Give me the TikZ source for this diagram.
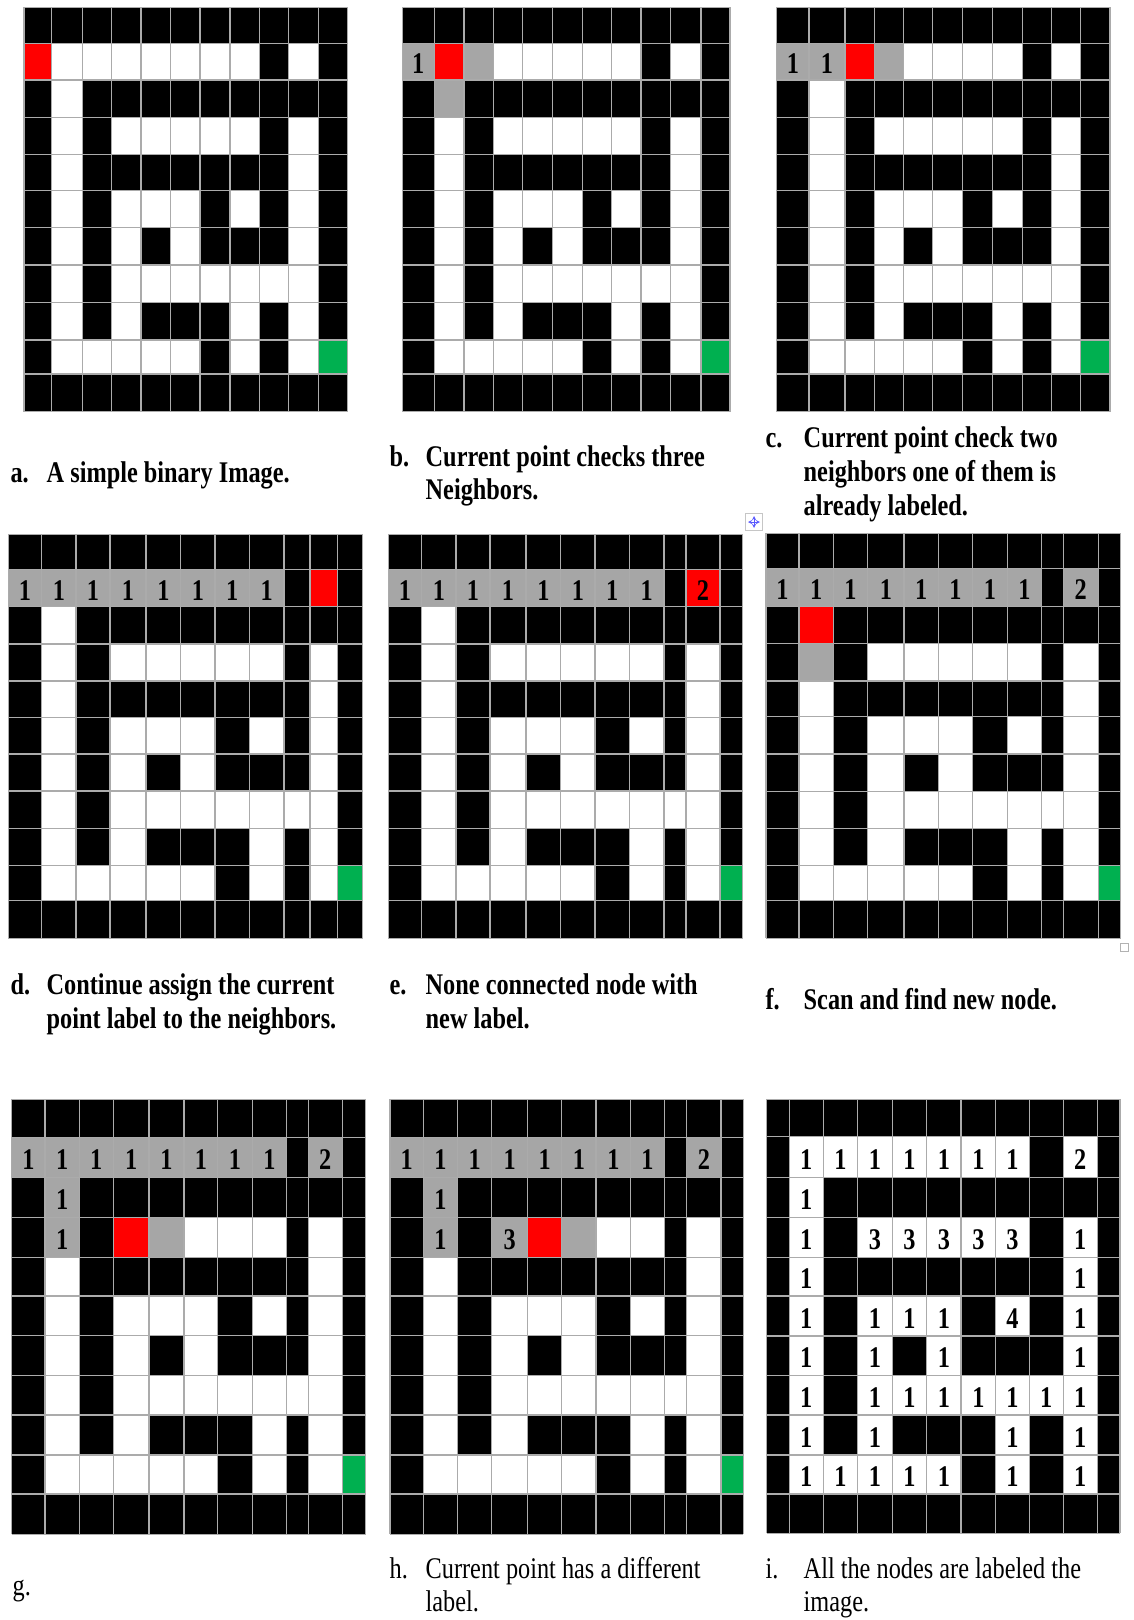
\documentclass[tikz,border=0pt]{standalone}
\usepackage{fontspec}
\setmainfont{Liberation Serif}
\usepackage{graphicx}
\definecolor{gcell}{HTML}{A6A6A6}
\definecolor{rcell}{HTML}{FF0000}
\definecolor{ecell}{HTML}{00B050}
\definecolor{gridc}{HTML}{ABABAB}
\tikzset{
  capb/.style={anchor=base west, inner sep=0pt, font=\fontsize{30}{33}\selectfont\bfseries},
  capr/.style={anchor=base west, inner sep=0pt, font=\fontsize{30}{33}\selectfont},
  digit/.style={anchor=base, inner sep=0pt, font=\fontsize{30}{30}\selectfont\bfseries},
  gline/.style={draw=gridc, line width=1.2pt},
}
\newcommand\SX[1]{\scalebox{0.81}[1]{#1}}
\newcommand{\Cell}[3]{%
  \pgfmathtruncatemacro\cnc{#2+1}%
  \pgfmathtruncatemacro\cnr{#1+1}%
  \pgfmathsetmacro\cxa{\PX[#2]}%
  \pgfmathsetmacro\cxb{\PX[\cnc]}%
  \pgfmathsetmacro\cya{\PY[#1]}%
  \pgfmathsetmacro\cyb{\PY[\cnr]}%
  \fill[#3] (\cxa,\cya) rectangle (\cxb,\cyb);}
\newcommand{\Lab}[3]{%
  \pgfmathtruncatemacro\cnc{#2+1}%
  \pgfmathtruncatemacro\cnr{#1+1}%
  \pgfmathsetmacro\cxa{\PX[#2]}%
  \pgfmathsetmacro\cxb{\PX[\cnc]}%
  \pgfmathsetmacro\cya{\PY[#1]}%
  \pgfmathsetmacro\cyb{\PY[\cnr]}%
  \pgfmathsetmacro\cxc{(\cxa+\cxb)/2}%
  \pgfmathsetmacro\cyc{(\cya+\cyb)/2+12}%
  \node[digit] (d\PN-#1-#2) at (\cxc,\cyc) {\SX{#3}};}
\newcommand{\Maze}{%
  \pgfmathsetmacro\mxa{\PX[0]}\pgfmathsetmacro\mxb{\PX[11]}%
  \pgfmathsetmacro\mya{\PY[0]}\pgfmathsetmacro\myb{\PY[11]}%
  \fill[black] (\mxa,\mya) rectangle (\mxb,\myb);
  \foreach \r/\c in {1/1,1/2,1/3,1/4,1/5,1/6,1/7,1/9,
    2/1,
    3/1,3/3,3/4,3/5,3/6,3/7,3/9,
    4/1,4/9,
    5/1,5/3,5/4,5/5,5/7,5/9,
    6/1,6/3,6/5,6/9,
    7/1,7/3,7/4,7/5,7/6,7/7,7/8,7/9,
    8/1,8/3,8/7,8/9,
    9/1,9/2,9/3,9/4,9/5,9/7,9/9}{\Cell{\r}{\c}{white}}%
}
\newcommand{\Grid}{%
  \pgfmathsetmacro\gya{\PY[0]}\pgfmathsetmacro\gyb{\PY[11]}%
  \pgfmathsetmacro\gxa{\PX[0]}\pgfmathsetmacro\gxb{\PX[11]}%
  \foreach \i in {0,...,11}{%
    \pgfmathsetmacro\gx{\PX[\i]}\draw[gline] (\gx,\gya) -- (\gx,\gyb);
    \pgfmathsetmacro\gy{\PY[\i]}\draw[gline] (\gxa,\gy) -- (\gxb,\gy);}%
}
\begin{document}
\begin{tikzpicture}[x=1pt,y=-1pt]
\useasboundingbox[fill=white] (0,0) rectangle (1133,1620);
% ---------------- panel a
\def\PN{a}
\def\PX{{24,51.7,82.3,111.7,141,170.7,200,230,259.3,288.3,318.3,347.3}}
\def\PY{{7.3,43.3,80,117.3,154.3,190.7,227.7,265,302.3,340,374,411.7}}
\Maze
\Cell{1}{0}{rcell}\Cell{9}{10}{ecell}
\Grid
% ---------------- panel b
\def\PN{b}
\def\PX{{402.3,434.3,464,493.3,522.7,552.7,582.3,611.7,641,670.3,701,730}}
\Maze
\Cell{1}{0}{gcell}\Cell{1}{1}{rcell}\Cell{1}{2}{gcell}\Cell{2}{1}{gcell}\Cell{9}{10}{ecell}
\Grid
\Lab{1}{0}{1}
% ---------------- panel c
\def\PN{c}
\def\PX{{776.7,809,845,874.3,903.3,932.7,962.3,992.3,1022.3,1051.7,1080.7,1110}}
\Maze
\Cell{1}{0}{gcell}\Cell{1}{1}{gcell}\Cell{1}{2}{rcell}\Cell{1}{3}{gcell}\Cell{9}{10}{ecell}
\Grid
\Lab{1}{0}{1}\Lab{1}{1}{1}
% ---------------- panel d
\def\PN{d}
\def\PX{{8.3,41.7,76,110,146,180.7,215,249.3,284,310,337.3,362.7}}
\def\PY{{534.3,569.3,606.7,644,681,717.3,754,791,828.3,865.7,900.7,938.3}}
\Maze
\foreach \c in {0,...,7}{\Cell{1}{\c}{gcell}}
\Cell{1}{9}{rcell}\Cell{9}{10}{ecell}
\Grid
\foreach \c in {0,...,7}{\Lab{1}{\c}{1}}
% ---------------- panel e
\def\PN{e}
\def\PX{{388.3,421.7,456,490,526,560.7,595,629.3,664,686,720,742.7}}
\Maze
\foreach \c in {0,...,7}{\Cell{1}{\c}{gcell}}
\Cell{1}{9}{rcell}\Cell{9}{10}{ecell}
\Grid
\foreach \c in {0,...,7}{\Lab{1}{\c}{1}}
\Lab{1}{9}{2}
% ---------------- panel f
\def\PN{f}
\def\PX{{766,799,833.3,867.7,904,938.3,972.7,1007.3,1041.7,1063.3,1098.3,1120.7}}
\def\PY{{533.3,568.3,606.7,643.3,681,716.7,754,791.7,828.3,865.7,900.7,938.3}}
\Maze
\foreach \c in {0,...,7}{\Cell{1}{\c}{gcell}}
\Cell{1}{9}{gcell}\Cell{2}{1}{rcell}\Cell{3}{1}{gcell}\Cell{9}{10}{ecell}
\Grid
\foreach \c in {0,...,7}{\Lab{1}{\c}{1}}
\Lab{1}{9}{2}
% ---------------- panel g
\def\PN{g}
\def\PX{{11.7,45,79.3,113.3,149,184,217.7,252.3,286.7,308.3,342.3,365.7}}
\def\PY{{1099.3,1137.3,1177.7,1217.7,1257.7,1296,1335.7,1375.7,1415,1455,1494,1534.3}}
\Maze
\foreach \c in {0,...,7}{\Cell{1}{\c}{gcell}}
\Cell{1}{9}{gcell}\Cell{2}{1}{gcell}\Cell{3}{1}{gcell}\Cell{3}{3}{rcell}\Cell{3}{4}{gcell}\Cell{9}{10}{ecell}
\Grid
\foreach \c in {0,...,7}{\Lab{1}{\c}{1}}
\Lab{1}{9}{2}\Lab{2}{1}{1}\Lab{3}{1}{1}
% ---------------- panel h
\def\PN{h}
\def\PX{{390,423.3,457.7,491.7,527.7,561.7,596,630.7,664.3,686.7,721,743.3}}
\Maze
\foreach \c in {0,...,7}{\Cell{1}{\c}{gcell}}
\Cell{1}{9}{gcell}\Cell{2}{1}{gcell}\Cell{3}{1}{gcell}\Cell{3}{3}{gcell}\Cell{3}{4}{rcell}\Cell{3}{5}{gcell}\Cell{9}{10}{ecell}
\Grid
\foreach \c in {0,...,7}{\Lab{1}{\c}{1}}
\Lab{1}{9}{2}\Lab{2}{1}{1}\Lab{3}{1}{1}\Lab{3}{3}{3}
% ---------------- panel i
\def\PN{i}
\def\PX{{766.7,789.3,823.3,857.7,892.3,926.7,961,995.7,1029.3,1063.3,1097.3,1120}}
\def\PY{{1099.3,1136.7,1177.3,1217.7,1257.7,1296,1336,1375.7,1415,1455,1494,1533.3}}
\Maze
\Grid
\foreach \r/\c/\t in {1/1/1,1/2/1,1/3/1,1/4/1,1/5/1,1/6/1,1/7/1,1/9/2,
    2/1/1,
    3/1/1,3/3/3,3/4/3,3/5/3,3/6/3,3/7/3,3/9/1,
    4/1/1,4/9/1,
    5/1/1,5/3/1,5/4/1,5/5/1,5/7/4,5/9/1,
    6/1/1,6/3/1,6/5/1,6/9/1,
    7/1/1,7/3/1,7/4/1,7/5/1,7/6/1,7/7/1,7/8/1,7/9/1,
    8/1/1,8/3/1,8/7/1,8/9/1,
    9/1/1,9/2/1,9/3/1,9/4/1,9/5/1,9/7/1,9/9/1}{\Lab{\r}{\c}{\t}}
% ---------------- captions
\node[capb] (ca0) at (10.3,482.5) {\SX{a.}};
\node[capb] (ca1) at (46.5,482.5) {\SX{A simple binary Image.}};
\node[capb] (cb0) at (389.4,466.7) {\SX{b.}};
\node[capb] (cb1) at (425.5,466.7) {\SX{Current point checks three}};
\node[capb] (cb2) at (425.5,499.3) {\SX{Neighbors.}};
\node[capb] (cc0) at (765.3,447.5) {\SX{c.}};
\node[capb] (cc1) at (803.5,447.5) {\SX{Current point check two}};
\node[capb] (cc2) at (803.5,481.5) {\SX{neighbors one of them is}};
\node[capb] (cc3) at (803.5,515.5) {\SX{already labeled.}};
\node[capb] (cd0) at (10.3,994.5) {\SX{d.}};
\node[capb] (cd1) at (46.5,994.5) {\SX{Continue assign the current}};
\node[capb] (cd2) at (46.5,1028.5) {\SX{point label to the neighbors.}};
\node[capb] (ce0) at (389.4,994.5) {\SX{e.}};
\node[capb] (ce1) at (425.5,994.5) {\SX{None connected node with}};
\node[capb] (ce2) at (425.5,1028.5) {\SX{new label.}};
\node[capb] (cf0) at (765.3,1009.5) {\SX{f.}};
\node[capb] (cf1) at (803.5,1009.5) {\SX{Scan and find new node.}};
\node[capr] (cg0) at (12.4,1595) {\SX{g.}};
\node[capr] (ch0) at (389.4,1578.5) {\SX{h.}};
\node[capr] (ch1) at (425.5,1578.5) {\SX{Current point has a different}};
\node[capr] (ch2) at (425.5,1611.5) {\SX{label.}};
\node[capr] (ci0) at (765.3,1578.5) {\SX{i.}};
\node[capr] (ci1) at (803.5,1578.5) {\SX{All the nodes are labeled the}};
\node[capr] (ci2) at (803.5,1611.5) {\SX{image.}};
% ---------------- editor handles
\node[draw=gray!45, fill=white, minimum size=17pt, inner sep=0pt, line width=0.8pt] (movehandle) at (754,522) {};
\draw[blue!65, line width=0.9pt, <->, >=stealth] ([xshift=-6pt]movehandle.center) -- ([xshift=6pt]movehandle.center);
\draw[blue!65, line width=0.9pt, <->, >=stealth] ([yshift=-6pt]movehandle.center) -- ([yshift=6pt]movehandle.center);
\node[draw=gray!60, fill=white, minimum size=8pt, inner sep=0pt, line width=0.8pt] (sizehandle) at (1124,947) {};
\end{tikzpicture}
\end{document}
